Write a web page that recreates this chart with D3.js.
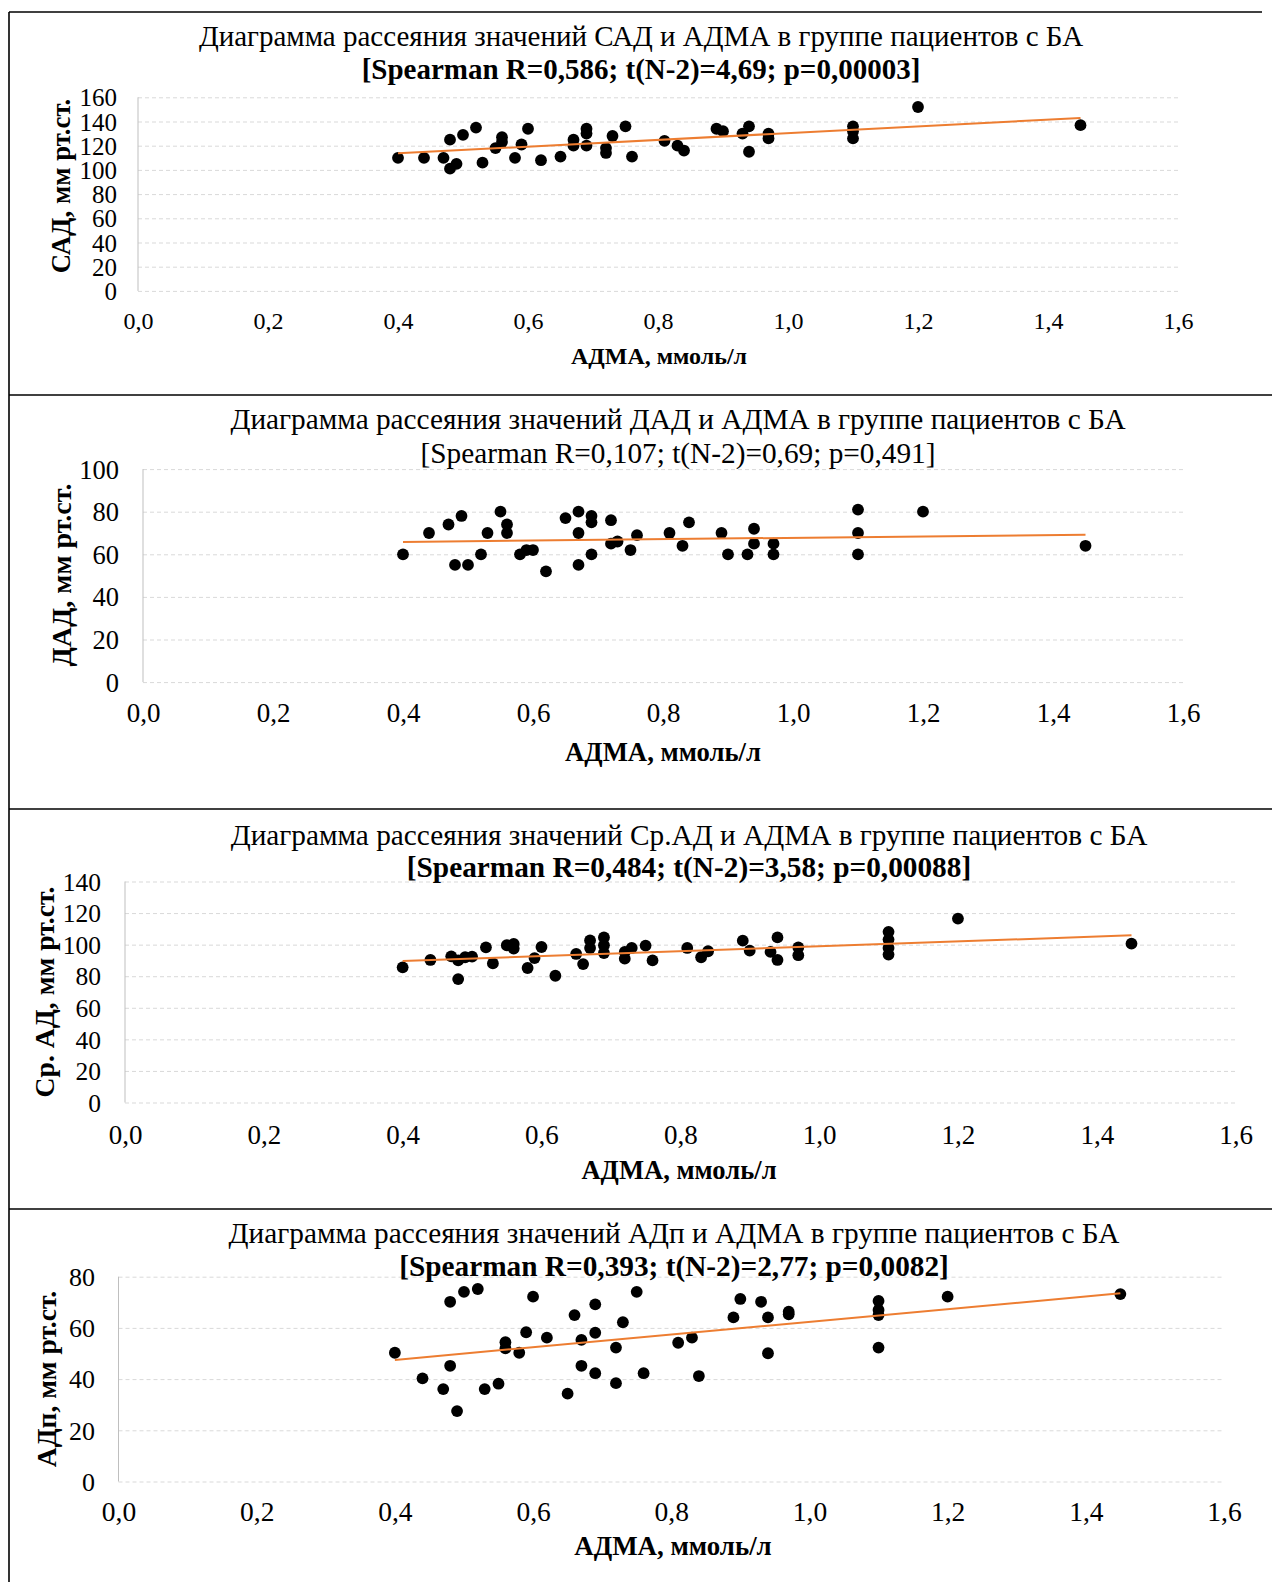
<!DOCTYPE html>
<html>
<head>
<meta charset="utf-8">
<script src="https://cdn.jsdelivr.net/npm/d3@7"></script>
<style>
  html, body { margin: 0; padding: 0; background: #fff; }
  svg { display: block; }
  text { font-family: "Liberation Serif", "Times New Roman", serif; fill: #000; }
</style>
</head>
<body>
<svg id="chart" width="1272" height="1582"></svg>
<script>
// ---- data: ADMA (x) against blood-pressure measures (y) ----
const xTicks = [0, 0.2, 0.4, 0.6, 0.8, 1.0, 1.2, 1.4, 1.6];

const sadX = [0.40,0.44,0.47,0.48,0.48,0.49,0.50,0.52,0.53,0.55,0.56,0.56,0.58,0.59,0.60,0.62,0.65,0.67,0.67,0.69,0.69,0.69,0.72,0.72,0.73,0.75,0.76,0.81,0.83,0.84,0.89,0.90,0.93,0.94,0.94,0.97,0.97,1.10,1.10,1.10,1.20,1.45];
const sadY = [110,110,110,125,101,105,129,135,106,118,127,123,110,121,134,108,111,120,125,134,130,120,118,114,128,136,111,124,120,116,134,132,130,136,115,130,126,136,132,126,152,137];

const dadX = [0.40,0.44,0.47,0.49,0.48,0.50,0.52,0.53,0.55,0.56,0.56,0.58,0.59,0.60,0.62,0.65,0.67,0.67,0.67,0.69,0.69,0.69,0.72,0.72,0.73,0.75,0.76,0.81,0.83,0.84,0.89,0.90,0.93,0.94,0.94,0.97,0.97,1.10,1.10,1.10,1.20,1.45];
const dadY = [60,70,74,78,55,55,60,70,80,74,70,60,62,62,52,77,55,80,70,78,75,60,76,65,66,62,69,70,64,75,70,60,60,72,65,65,60,81,70,60,80,64];

const sradX = [0.40,0.44,0.47,0.48,0.48,0.49,0.50,0.52,0.53,0.55,0.56,0.56,0.58,0.59,0.60,0.62,0.65,0.66,0.67,0.67,0.69,0.69,0.69,0.72,0.72,0.73,0.75,0.76,0.81,0.83,0.84,0.89,0.90,0.93,0.94,0.94,0.97,0.97,1.10,1.10,1.10,1.10,1.20,1.45];
const sradY = [85.6,90.3,92.6,90,78.2,92,92.4,98.3,88.1,99.6,100.4,97.5,85.2,91.5,98.5,80.3,94.1,87.7,102.7,97.9,104.6,99.6,94.7,95.4,91.1,97.9,99.4,90,97.9,92,95.8,102.5,96.2,95.4,104.6,90.3,98.3,93.3,108.1,103.2,97.9,93.7,116.5,100.6];

const adpX = [0.40,0.44,0.47,0.48,0.48,0.49,0.50,0.52,0.53,0.55,0.56,0.56,0.58,0.59,0.60,0.62,0.65,0.66,0.67,0.67,0.69,0.69,0.69,0.72,0.72,0.73,0.75,0.76,0.81,0.83,0.84,0.89,0.90,0.93,0.94,0.94,0.97,0.97,1.10,1.10,1.10,1.10,1.20,1.45];
const adpY = [50.3,40.3,36.1,70.2,45.2,27.5,74.1,75.2,36.1,38.2,54.4,52,50.3,58.3,72.2,56.2,34.3,65,55.3,45.2,69.2,58.1,42.3,52.3,38.4,62.2,74.1,42.3,54.2,56.2,41.2,64.1,71.3,70.2,64.1,50.1,66.3,65.3,70.5,67,65,52.3,72.2,73.2];

// linear trend lines: values at the two ends of the ADMA range
const trendX = [0.40, 1.45];
const sadTrend = [113.7, 142.9];
const dadTrend = [65.8, 69.2];
const sradTrend = [89.6, 105.9];
const adpTrend = [47.5, 73.5];

const sadTicks = [0, 20, 40, 60, 80, 100, 120, 140, 160];
const dadTicks = [0, 20, 40, 60, 80, 100];
const sradTicks = [0, 20, 40, 60, 80, 100, 120, 140];
const adpTicks = [0, 20, 40, 60, 80];

const titles = [
  "Диаграмма рассеяния значений САД и АДМА в группе пациентов с БА",
  "Диаграмма рассеяния значений ДАД и АДМА в группе пациентов с БА",
  "Диаграмма рассеяния значений Ср.АД и АДМА в группе пациентов с БА",
  "Диаграмма рассеяния значений АДп и АДМА в группе пациентов с БА"
];
const statLines = [
  "[Spearman R=0,586; t(N-2)=4,69; p=0,00003]",
  "[Spearman R=0,107; t(N-2)=0,69; p=0,491]",
  "[Spearman R=0,484; t(N-2)=3,58; p=0,00088]",
  "[Spearman R=0,393; t(N-2)=2,77; p=0,0082]"
];
const yTitles = ["САД, мм рт.ст.", "ДАД, мм рт.ст.", "Ср. АД, мм рт.ст.", "АДп, мм рт.ст."];
const xTitle = "АДМА, ммоль/л";

// ---- layout of each panel ----
const panels = [
  { xs: sadX, ys: sadY, trend: sadTrend, ticks: sadTicks, statBold: true,
    left: 138, right: 1178, top: 97.3, bottom: 290.9,
    titleX: 641, title1Y: 36.6, title2Y: 69, titleSize: 29,
    xTitlePos: [659, 356], xTitleSize: 24, yTitlePos: [61, 186], yTitleSize: 26.8,
    yLabelGap: 21, yLabelSize: 25, xLabelGap: 30, xLabelSize: 24 },
  { xs: dadX, ys: dadY, trend: dadTrend, ticks: dadTicks, statBold: false,
    left: 143, right: 1183, top: 469.1, bottom: 682.1,
    titleX: 678, title1Y: 418.6, title2Y: 453, titleSize: 29.3,
    xTitlePos: [663, 752], xTitleSize: 26.7, yTitlePos: [61, 575], yTitleSize: 28,
    yLabelGap: 24, yLabelSize: 26.5, xLabelGap: 31, xLabelSize: 27 },
  { xs: sradX, ys: sradY, trend: sradTrend, ticks: sradTicks, statBold: true,
    left: 125, right: 1235.6, top: 881.5, bottom: 1102.5,
    titleX: 689, title1Y: 835, title2Y: 867.5, titleSize: 29.3,
    xTitlePos: [679, 1170], xTitleSize: 26.6, yTitlePos: [44.5, 992], yTitleSize: 27.7,
    yLabelGap: 24, yLabelSize: 25.5, xLabelGap: 32, xLabelSize: 27 },
  { xs: adpX, ys: adpY, trend: adpTrend, ticks: adpTicks, statBold: true,
    left: 118.5, right: 1224, top: 1276.7, bottom: 1481.5,
    titleX: 674, title1Y: 1232.6, title2Y: 1266, titleSize: 29.3,
    xTitlePos: [673, 1546], xTitleSize: 26.9, yTitlePos: [46.5, 1379], yTitleSize: 27.5,
    yLabelGap: 23.5, yLabelSize: 26, xLabelGap: 30.5, xLabelSize: 27.5 }
];

const svg = d3.select("#chart");
const fmt = v => d3.format(".1f")(v).replace(".", ",");

// frame lines separating the four panels
const frame = svg.append("g").attr("stroke", "#000").attr("stroke-width", 1.6);
frame.append("line").attr("x1", 9).attr("x2", 1262).attr("y1", 12).attr("y2", 12);
frame.append("line").attr("x1", 9).attr("x2", 9).attr("y1", 12).attr("y2", 1582);
[395, 809, 1209].forEach(y => {
  frame.append("line").attr("x1", 9).attr("x2", 1272).attr("y1", y).attr("y2", y);
});

panels.forEach((p, i) => {
  const g = svg.append("g");
  const x = d3.scaleLinear().domain([0, 1.6]).range([p.left, p.right]);
  const yMax = d3.max(p.ticks);
  const y = d3.scaleLinear().domain([0, yMax]).range([p.bottom, p.top]);

  // horizontal gridlines with value labels
  const yAxis = d3.axisLeft(y).tickValues(p.ticks).tickSize(-(p.right - p.left)).tickFormat(d => d);
  const ya = g.append("g").attr("transform", `translate(${p.left},0)`).call(yAxis);
  ya.select(".domain").remove();
  ya.selectAll(".tick line").attr("stroke", "#d9d9d9").attr("stroke-width", 1).attr("stroke-dasharray", "4,3");
  ya.selectAll(".tick text").attr("font-size", p.yLabelSize).attr("font-family", "Liberation Serif")
    .attr("fill", "#000").attr("x", -p.yLabelGap).attr("dy", "0.34em");

  // vertical axis line
  g.append("line").attr("x1", p.left).attr("x2", p.left).attr("y1", p.top).attr("y2", p.bottom)
    .attr("stroke", "#bfbfbf").attr("stroke-width", 1);

  // x tick labels
  const xAxis = d3.axisBottom(x).tickValues(xTicks).tickSize(0).tickFormat(fmt);
  const xa = g.append("g").attr("transform", `translate(0,${p.bottom})`).call(xAxis);
  xa.select(".domain").remove();
  xa.selectAll(".tick text").attr("font-size", p.xLabelSize).attr("font-family", "Liberation Serif").attr("fill", "#000")
    .attr("y", p.xLabelGap).attr("dy", "0.34em");

  // points
  g.append("g").selectAll("circle").data(p.xs.map((v, k) => [v, p.ys[k]])).join("circle")
    .attr("cx", d => x(d[0])).attr("cy", d => y(d[1])).attr("r", 5.9).attr("fill", "#000");

  // trend line
  g.append("line")
    .attr("x1", x(trendX[0])).attr("y1", y(p.trend[0]))
    .attr("x2", x(trendX[1])).attr("y2", y(p.trend[1]))
    .attr("stroke", "#ED7D31").attr("stroke-width", 2);

  // titles
  g.append("text").attr("x", p.titleX).attr("y", p.title1Y).attr("dy", "0.34em")
    .attr("text-anchor", "middle").attr("font-size", p.titleSize).text(titles[i]);
  g.append("text").attr("x", p.titleX).attr("y", p.title2Y).attr("dy", "0.34em")
    .attr("text-anchor", "middle").attr("font-size", p.titleSize)
    .attr("font-weight", p.statBold ? "bold" : "normal").text(statLines[i]);

  g.append("text").attr("x", p.xTitlePos[0]).attr("y", p.xTitlePos[1]).attr("dy", "0.34em")
    .attr("text-anchor", "middle").attr("font-size", p.xTitleSize).attr("font-weight", "bold").text(xTitle);

  g.append("text").attr("transform", `translate(${p.yTitlePos[0]},${p.yTitlePos[1]}) rotate(-90)`)
    .attr("dy", "0.34em").attr("text-anchor", "middle").attr("font-size", p.yTitleSize)
    .attr("font-weight", "bold").text(yTitles[i]);
});
</script>
</body>
</html>
